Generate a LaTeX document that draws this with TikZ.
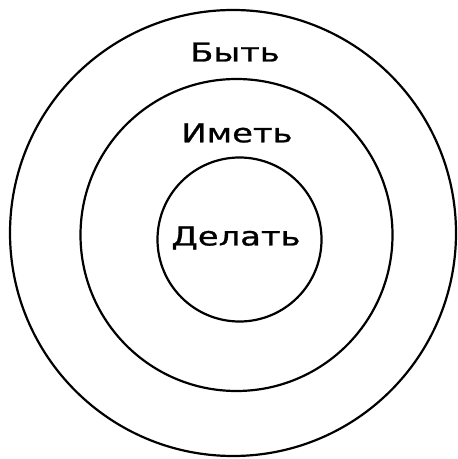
\documentclass[tikz,border=0pt]{standalone}
\usepackage{xcolor}
\usepackage{fontspec}
\setmainfont{DejaVu Sans}
\newfontfamily\handfont[FakeStretch=1.3,FakeBold=1]{DejaVu Sans}
\usepackage{tikz}

\begin{document}
\begin{tikzpicture}[x=0.5pt,y=-0.5pt]
\useasboundingbox (0,0) rectangle (457,459);
\draw[line width=1.1pt] (233,233) circle (223*0.5pt);
\draw[line width=1.1pt] (236.5,235) circle (156*0.5pt);
\draw[line width=1.1pt] (239.5,239.5) circle (82*0.5pt);
\node[font=\handfont\fontsize{13}{15}\selectfont] (byt) at (235,52) {Быть};
\node[font=\handfont\fontsize{13}{15}\selectfont] (imet) at (237,133) {Иметь};
\node[font=\handfont\fontsize{13}{15}\selectfont] (delat) at (236,238) {Делать};
\end{tikzpicture}
\end{document}
